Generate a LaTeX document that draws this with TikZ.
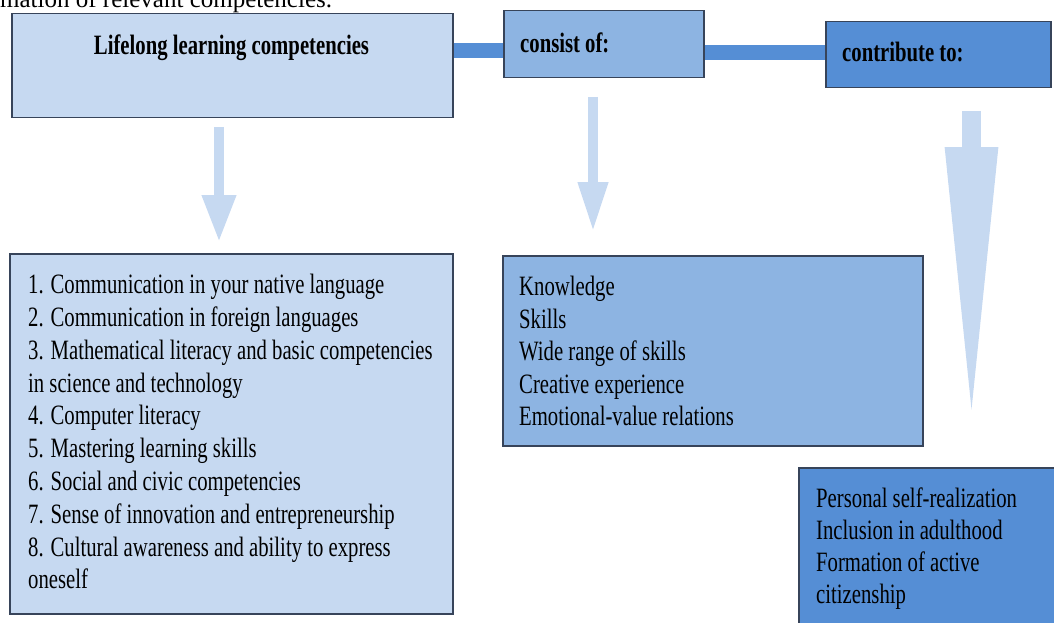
\documentclass[tikz,border=0pt]{standalone}
\usepackage{fontspec}
\setmainfont{Liberation Serif}[FakeStretch=0.74]
\newfontfamily\plainserif{Liberation Serif}
\usetikzlibrary{arrows.meta,calc}
\definecolor{paleblue}{RGB}{198,217,241}
\definecolor{midblue}{RGB}{141,180,226}
\definecolor{deepblue}{RGB}{85,142,213}
\definecolor{edgecol}{RGB}{55,68,90}
\tikzset{
  box/.style={draw=edgecol, line width=1.5pt, rectangle, inner sep=0pt, anchor=north west},
  listtext/.style={anchor=north west, inner sep=0pt, align=left, text=black,
    font={\fontsize{28}{32.8}\selectfont}},
  headtext/.style={anchor=base, inner sep=0pt, text=black,
    font={\fontsize{28}{32.8}\selectfont\bfseries}},
  bar/.style={draw=deepblue, line width=15pt},
  downarrow/.style={draw=paleblue, fill=paleblue}
}
\begin{document}
\begin{tikzpicture}[x=1pt,y=-1pt]
\useasboundingbox (0,0) rectangle (1054,623);
% cut-off line of running text at the top
\node[anchor=base west, inner sep=0pt, font={\plainserif\fontsize{25}{30}\selectfont}] (toptext) at (0,7.5) {mation of relevant competencies.};

% boxes
\node[box, fill=paleblue, minimum width=441pt, minimum height=104pt] (A) at (11,13) {};
\node[box, fill=midblue, minimum width=200pt, minimum height=67pt] (B) at (503,10) {};
\node[box, fill=deepblue, minimum width=225pt, minimum height=66pt] (C) at (825,21) {};
\node[box, fill=paleblue, minimum width=443pt, minimum height=360pt] (D) at (9,253) {};
\node[box, fill=midblue, minimum width=420pt, minimum height=190pt] (E) at (502,255) {};
\node[box, fill=deepblue, minimum width=280pt, minimum height=180pt] (F) at (798,467) {};

% connecting bars
\coordinate (yab) at (0,51);
\coordinate (ybc) at (0,53);
\draw[bar] (A.east |- yab) -- (B.west |- yab);
\draw[bar] (B.east |- ybc) -- (C.west |- ybc);

% heading texts
\node[headtext] (Atext) at (231.5,55) {Lifelong learning competencies};
\node[headtext, anchor=base west] (Btext) at (520,53) {consist of:};
\node[headtext, anchor=base west] (Ctext) at (842,62) {contribute to:};

% down arrows
\coordinate (a1s) at (219,127);
\coordinate (a1e) at (219,242);
\coordinate (a2s) at (593,97);
\coordinate (a2e) at (593,232);
\coordinate (a3s) at (971.5,111);
\coordinate (a3e) at (971.5,428);
\draw[paleblue, line width=10pt, -{Triangle[width=32pt,length=47pt]}] (a1s) -- (a1e);
\draw[paleblue, line width=10pt, -{Triangle[width=28pt,length=50pt]}] (a2s) -- (a2e);
\draw[paleblue, line width=19pt, -{Triangle[width=48pt,length=281pt]}] (a3s) -- (a3e);

% list texts
\node[listtext] (Dtext) at (28,274) {1. Communication in your native language\\
2. Communication in foreign languages\\
3. Mathematical literacy and basic competencies\\
in science and technology\\
4. Computer literacy\\
5. Mastering learning skills\\
6. Social and civic competencies\\
7. Sense of innovation and entrepreneurship\\
8. Cultural awareness and ability to express\\
oneself};
\node[listtext, font={\fontsize{28}{32.5}\selectfont}] (Etext) at (519,276) {Knowledge\\
Skills\\
Wide range of skills\\
Creative experience\\
Emotional-value relations};
\node[listtext, font={\fontsize{28}{32}\selectfont}] (Ftext) at (816,488) {Personal self-realization\\
Inclusion in adulthood\\
Formation of active\\
citizenship};
\end{tikzpicture}
\end{document}
